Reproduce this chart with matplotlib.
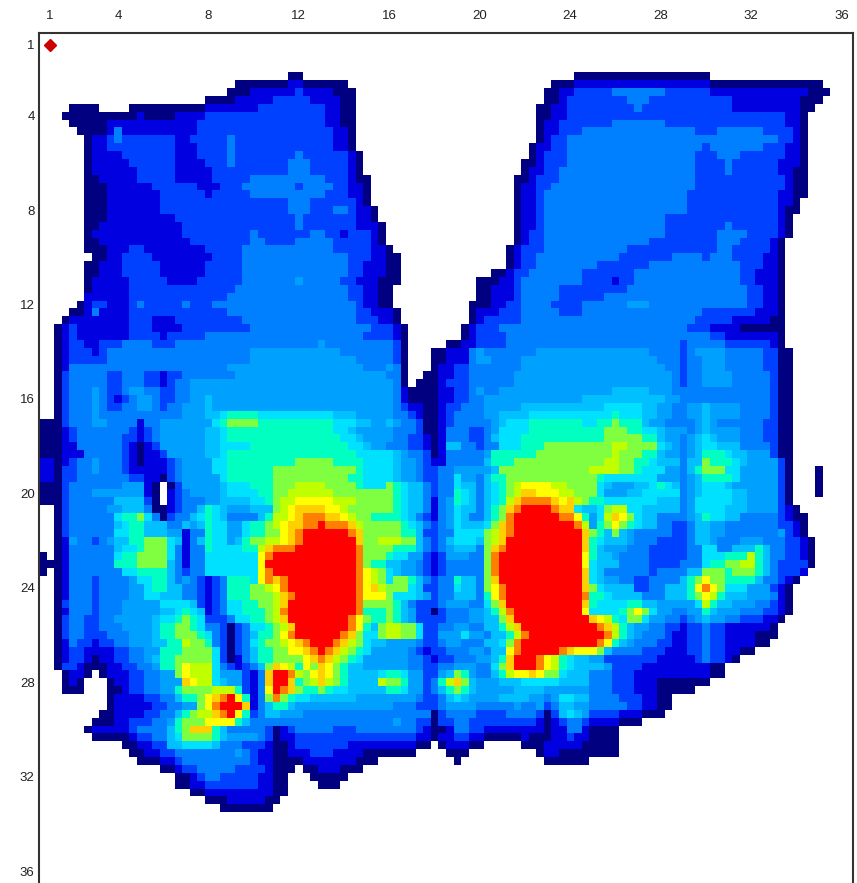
#!/usr/bin/env python3

import numpy as np
import matplotlib
matplotlib.use("Agg")
import matplotlib.pyplot as plt
from matplotlib.colors import ListedColormap

# Pressure level names, low to high, and what each one looks like
level_codes = "wndbmlscgyzjopr"
level_colors = ["#ffffff", "#000080", "#0000e0", "#0040ff", "#0080ff", "#00a0ff", "#00c0ff",
	"#00e0ff", "#00ffc0", "#80ff40", "#c0ff00", "#ffff00", "#ffd000", "#ff8000", "#ff0000"]

tick_labels = [1, 4, 8, 12, 16, 20, 24, 28, 32, 36]
marker_pos = (1, 1)

# Three samples per sensor. Each token is a level and the column where it stops.
rows_top = [
	"", "", "", "", "",
	"w33 n35 w71 n89",
	"w26 n33 d35 n41 w68 n71 d89 n104",
	"w25 n28 d34 b35 d39 n42 w67 n69 d71 b76 m83 b89 d102 n105",
	"w22 n26 d31 b36 d40 n42 w67 n69 d70 b78 m81 b92 d101 n104",
	"w4 n8 w12 n22 d29 b38 d40 n42 w66 n68 d70 b79 m80 b92 d101 n103",
	"w3 n13 d14 n18 d22 b38 d40 n42 w66 n68 d70 b99 d101 n102",
	"w4 n9 d21 b38 d40 n42 w66 n67 d69 b76 m83 b99 d101 n102",
	"w5 n9 d10 m11 d21 b39 d41 n42 w66 n67 d69 b72 m87 b90 m96 b100 d101 n102",
	"w6 n7 d9 b10 m11 b18 d20 b25 m26 b39 d41 n42 w66 n67 d68 b70 m98 b100 d101 n102",
	"w6 n7 d9 b18 d21 b25 m26 b39 d41 n42 w65 n66 d68 b70 m88 b89 m96 b99 d101 n102",
	"w6 n7 d11 b18 d21 b25 m26 b34 m35 b41 d42 n43 w65 n66 d67 b70 m87 b90 m93 b99 d101 n102",
	"w6 n7 d12 b18 d22 b25 m26 b33 m36 b41 d42 n43 w64 n66 d67 b70 m87 b91 m92 b98 d101 n102",
	"w6 n7 d13 b18 d23 b33 m36 b41 d42 n43 w64 n65 d67 b69 m87 b91 m92 b98 d100 n102",
	"w6 n8 d13 b18 d23 b28 m38 b41 d42 n44 w63 n65 d66 b69 m87 b99 d100 n102",
	"w6 n9 d15 b21 d24 b27 m34 b35 m39 b41 d43 n44 w63 n64 d66 b68 m87 b99 d100 n102",
	"w6 n9 d16 b22 d23 b28 m38 b41 d43 n44 w63 n64 d66 b67 m86 b98 d100 n102",
	"w6 n9 d16 b33 m36 b42 d43 n44 w63 n64 d66 b67 m86 b98 d100 n101",
	"w6 n9 d16 b33 m36 b39 m41 b42 d44 n45 w63 n64 d66 b67 m86 b98 d99 n101",
	"w6 n9 d18 b34 m35 b42 d44 n45 w63 n64 d66 b67 m83 b98 d99 n100",
	"w6 n8 d19 b34 m35 b42 d45 n46 w63 n64 d66 b67 m83 b91 m92 b98 d99 n100",
	"w6 n7 d19 b28 m29 b36 m38 b40 d41 b44 d45 n46 w63 n64 d65 b67 m83 b90 m94 b98 d99 n100",
	"w6 n8 d20 b28 m30 b34 m39 b44 d45 n46 w63 n64 d65 b67 m81 b90 m93 b97 d98 n99",
	"w6 n9 d12 b14 d22 b27 m39 b44 d46 n47 w62 n63 d64 b67 m78 b90 m92 b97 d98 n99",
	"w7 n9 d11 b15 d23 b27 m41 b44 d46 n48 w62 n63 d64 b66 m77 b84 m88 b89 m92 b96 d98 n99",
	"w6 n8 d11 b16 d22 b27 m41 b43 d46 n48 w62 n63 d64 b66 m74 b81 m93 b96 d98 n99",
	"w6 n8 d11 b16 d22 b27 m41 b43 d46 n48 w60 n62 d63 b65 m72 b79 m93 b95 d98 n99",
	"w6 n7 d12 b17 d21 b27 m34 l35 m40 b42 d45 n48 w58 n61 d63 b64 m72 b76 d77 b79 m93 b95 d98 n99",
	"w6 n7 d12 b26 m41 b43 d45 n47 w58 n60 d63 b64 m69 b78 m94 b96 d98 n99",
	"w6 d12 b25 m41 b43 d45 n47 w58 n60 d63 b64 m69 b75 m94 b96 d98 n99",
	"w5 n6 d7 b9 d12 b13 m14 b19 m20 b23 m42 b43 d45 n47 w57 n60 d62 b64 m68 b72 m78 l81 m94 b96 d98 n99",
	"w4 n6 d7 m8 d12 b25 m42 b44 d47 n48 w57 n58 d61 b64 m69 b72 m88 b95 d98 n99",
	"w3 n4 d12 b15 d18 b27 m42 b45 d47 n48 w57 n58 d59 b64 m87 b92 d97 n99",
	"w2 n3 d4 b5 d12 b15 d19 b28 m44 b47 d48 n49 w56 n57 d58 b61 m86 b89 d93 n99",
	"w2 n3 d4 b5 d12 b16 d17 b22 m43 b47 d48 n49 w56 n57 d58 b62 m89 b91 d98 n99",
	"w2 n3 d4 b6 d8 b11 m15 b18 m37 l38 m47 b48 n49 w54 n56 d58 b62 m85 b86 m91 b97 d98 n99",
	"w2 n3 d4 b7 d8 b9 m28 l40 m47 b48 n49 w52 n54 d57 m58 l59 m66 l81 m85 b86 m87 l91 m96 b98 n100",
	"w2 n3 d4 b9 m28 l42 m47 b48 n49 w52 n54 d57 m58 l60 m64 l82 m85 b86 m88 l91 m96 b98 n100",
	"w2 n3 d4 m25 l43 m46 l47 m48 n49 w52 n53 d55 b57 m64 l83 m85 b86 m88 l91 m96 b98 n100",
	"w2 n3 b4 m9 b11 m14 b16 d17 b19 m26 l46 m48 n49 w51 n53 d55 b57 m63 l84 m85 b86 m88 l92 m97 b98 n100",
	"w2 n3 b4 m9 b11 m14 b16 d17 b18 m20 l47 m48 n49 w50 n53 d54 b57 m63 l84 m85 b86 m88 l92 m97 b98 n100",
	"w2 n3 b4 m7 l8 m9 b11 m12 l14 m16 b18 m20 l47 m48 d49 n53 d55 b57 m58 l59 m61 l76 s81 l84 m97 b98 n100",
	"w2 n3 b4 m7 l8 m9 b10 d11 b12 m13 l15 m16 b18 m20 l22 s23 l47 m48 d49 n53 d55 b57 m59 l72 s83 l85 m97 b98 n100",
	"w2 n3 b4 m7 l8 m9 b11 m13 l15 m16 b17 m19 l22 s23 l47 m48 b49 d51 n53 d54 b56 m59 l64 s75 c80 s82 l84 m86 l88 s89 l93 m97 b98 n100",
	"w2 n3 b4 m7 l8 m19 l22 s24 c25 g29 c39 s42 l47 m49 b50 d51 n53 d54 b55 m59 l61 s65 c76 g77 c80 s82 l84 m86 l88 s89 l93 m97 b98 n100",
	"n3 b4 m7 l9 m13 d14 m16 l23 c24 g25 y29 g39 c42 s44 l46 s47 l48 m50 b51 n53 d54 b55 m60 l61 s62 c65 g72 c74 g76 y77 g80 s81 l83 m87 l88 s89 l90 m96 b98 n100",
	"n3 d4 b5 m12 b13 d14 b15 m16 l22 s24 c25 g39 c41 s42 l47 m50 b51 n53 d54 m57 b59 m60 l61 c65 g75 y78 g80 c82 s83 l86 m87 l88 s89 l93 m96 b98 n100",
	"n3 d4 b5 m11 b13 d14 b15 m16 l22 s24 c25 g40 c42 s43 l47 m49 b51 d52 n53 d54 m57 b59 m60 s61 c64 g75 y80 g82 s83 l85 m86 l87 s88 c89 s90 l93 m96 b98 n100",
	"n3 d5 m11 b12 d13 n14 d15 b16 l22 s24 c28 g41 c43 s44 l46 m49 b51 d52 n53 d54 s56 m58 b59 m61 c64 g67 y76 z78 y82 c83 s84 l85 m86 l87 s88 c90 s93 m97 b98 n100",
	"n3 d6 m11 b12 d13 n14 d16 b17 l22 s24 c25 g42 c47 s48 l49 m51 b52 n53 d54 m59 l60 g66 y76 z77 y80 g82 s83 l85 m86 l87 s88 g91 c92 s94 l97 b98 n100",
]

rows_middle = [
	"d2 n3 d4 b5 m7 l8 m11 b12 d13 n14 d17 b18 m19 l23 c25 g34 y39 g43 c47 s48 l50 m51 b52 d54 m59 s60 g63 y75 z77 y79 g81 c82 s85 m86 s88 y89 g92 c93 s94 l98 b99 n100",
	"d2 n3 b5 m7 l8 m11 b12 d17 b18 m19 l23 c25 g31 y42 g43 c47 s48 l50 m51 b53 m55 l60 s61 y73 z77 y79 g80 c83 l85 m86 s87 g88 y91 c93 l98 b99 n100 w103 n104",
	"d2 n3 b5 m12 b14 d16 n17 b18 m19 l24 c25 g31 y41 g43 c47 s48 l50 m51 b53 m55 c56 l58 m59 s60 g62 y74 g75 c82 l85 m86 l87 s88 g92 c93 l98 b99 n100 w103 n104",
	"n3 b4 m11 l14 d15 n16 w17 n18 b19 l24 s25 c28 g31 y34 z38 y42 g43 c46 y47 g48 c49 s51 m52 b53 m55 c56 s58 m59 s60 c61 g62 y63 z64 j68 z70 y74 c75 s76 l79 s81 c82 g83 c84 s85 m86 l87 s88 c91 s92 l98 b99 n100 w103 n104",
	"n3 b4 m7 l14 d15 n16 w17 d18 b19 m20 l24 s25 c29 g31 y33 z39 y47 g48 c49 s51 m52 b53 m55 g56 c57 s58 m59 s60 c61 g62 y63 z64 o66 j69 z71 y74 c75 l78 s80 c85 m86 l87 s88 c92 s94 l98 b99 n100 w103 n104",
	"n3 b4 m10 s14 b15 n16 w17 d18 b19 m22 l24 s28 c30 g31 y32 z34 j39 z42 y47 g48 c49 s51 m52 d53 m54 l55 g56 c57 s58 m59 s60 c61 g62 z63 o64 p68 o69 j70 o71 z72 y73 g75 c82 s85 m86 l87 c92 s94 l98 b99 n100",
	"w2 n3 b4 m9 l11 s14 m15 n17 d18 b19 m21 s22 g23 c24 s25 l28 s31 y32 z33 j34 o38 j40 z41 y47 g48 c49 s51 m52 d53 m54 l55 c56 s58 m59 s60 g61 y62 o63 p64 r68 p69 o71 c72 s74 c75 y76 z78 c80 s85 m86 l87 c91 s94 l98 b99 d100 n101",
	"w2 n3 b4 m10 c11 g13 y14 c15 m16 n17 b18 m20 s21 c22 g23 c24 s25 m29 s30 g31 z33 j34 o35 p38 o40 j41 z42 y44 g48 c49 s50 m51 b52 d53 m54 l55 c56 s57 m59 s60 g61 y62 p63 r69 p71 j72 g73 l74 c75 z76 o77 j78 y79 c80 s82 m86 l87 s88 g89 c91 s93 m98 b99 d100 n102",
	"w2 n3 b4 m10 s11 c12 g14 s17 m19 s20 l21 s22 g23 c25 l27 c28 g30 y31 z32 j33 o35 p37 r38 p41 o42 z43 y48 g49 c50 s51 m52 b53 m54 l55 c56 s59 c60 y61 o62 p63 r71 p72 z73 l74 g75 y76 j77 y78 g79 c80 s82 m84 b86 m87 s89 l91 m98 b100 d101 n102",
	"w2 n3 b4 m10 c12 g14 s17 l19 d20 m22 g23 c25 l27 c28 g30 y32 j33 o34 p35 r41 p42 o43 y48 g50 s51 b53 m55 c59 y60 z61 o62 p63 r72 o73 y74 g75 s76 y77 s78 l79 m84 b86 m87 s89 l91 m98 l99 b100 d101 n102",
	"w2 n3 d4 l5 m7 b8 m9 l10 s12 g14 y17 c18 s19 d20 m21 s22 g23 c25 l26 s27 g28 y30 z32 j33 o34 p35 r42 o43 y45 z48 y50 s51 m52 b53 m54 s55 c58 s59 y60 z61 o62 r72 o73 g74 c75 s78 l79 m82 b86 m87 s89 l90 m93 l96 m99 b101 d102 n103",
	"w2 n3 d4 m10 s11 c13 g14 y17 c18 m19 d20 m22 g23 c27 g29 z30 o31 p34 r42 p43 y47 g50 s51 m52 b53 m54 l55 s58 m59 y60 o61 p62 r72 o73 g74 s75 l78 m81 b86 m88 c90 m92 s95 g96 s97 m99 b101 d102 n103",
	"n1 w2 n3 d4 m10 c11 g13 y17 c18 m19 d20 m22 c29 j30 p31 r42 p43 y46 g47 c49 l51 b52 d53 b54 l57 m59 y60 p61 r72 j73 g74 s76 l77 m81 b86 m88 c91 g94 z95 g96 s97 m99 b101 d102 n103",
	"n3 d4 m10 g13 y17 s18 m19 d20 m22 c29 j30 r42 p43 y44 g46 s48 l50 m51 b52 d53 b54 m59 y60 p61 r72 j73 c74 s77 m81 b85 m88 c89 g91 y93 z95 g96 s97 m98 b102 n103",
	"n1 w2 n3 d4 m11 c13 g17 s18 m19 b20 m22 c29 j30 p31 r42 p43 j44 z45 y46 c47 s48 l50 m51 b52 d53 b54 m59 y60 p61 r72 o73 c74 s75 m81 b82 m86 s88 y91 g92 y95 g96 s97 m98 b101 d102",
	"w2 n3 d4 m7 b8 m12 l13 c15 g17 s18 m19 l20 m21 b22 d23 b24 m25 g28 c29 j30 p31 o32 p33 r42 p43 j44 z45 y46 c47 y49 g50 s51 m52 b53 m55 g56 s58 m59 y60 o61 r72 o73 c74 s75 l77 m79 b81 m85 s86 g87 y88 j89 y91 g95 s96 m98 b99 d100 n101",
	"w2 n3 d4 m7 b8 m12 l14 c15 g17 s19 m21 b22 d23 b24 m25 g28 y30 z31 j32 p33 r42 p43 j44 o45 z46 y49 c50 s51 b52 b53 m55 c56 s58 m59 y60 j61 p62 r72 o73 y74 c75 s79 b81 m83 s86 g87 j88 p89 j90 y91 c94 l97 b98 d99 n100",
	"w2 n3 d4 m7 b8 m12 l14 c16 s19 m21 b22 d23 b24 m25 g28 y31 z32 o33 p34 r42 p43 j46 y47 c50 s51 l52 b53 m55 s58 m59 g60 j61 p62 r72 p73 g75 c76 s80 m83 s86 g87 y88 j89 z90 g91 s94 l97 m98 d99 n100",
]

rows_bottom = [
	"w2 n3 b4 m7 b8 m11 l16 c20 s21 b22 d23 b24 m25 c27 g29 y31 z32 o33 r42 p43 y47 g48 s49 m50 b53 m54 l57 m59 c60 y61 o62 r72 o73 g74 c78 g80 s82 l87 c88 z89 g90 s92 l95 m97 b98 d99 n100",
	"w2 n3 d4 m7 b8 m11 l16 s18 c19 g20 c21 s22 d23 b24 m25 c27 g30 y31 z32 p33 r42 p43 g46 y47 g48 s49 l50 b52 n53 b54 m57 l59 s60 g61 z62 p63 r72 j73 c77 g78 y79 j80 y81 c82 l84 m86 l88 g89 s90 l93 m96 b98 d99 n100",
	"w2 n3 b4 m6 b8 m10 l15 s16 c18 g19 y20 g21 c22 b25 m26 c28 g30 y31 z32 o33 r41 p42 j43 y44 g46 y47 g48 s49 l50 b54 m57 l59 s61 y62 o63 r73 o74 j75 z76 g77 c78 y80 c81 l83 m85 b86 m87 l88 s89 l91 m93 b96 d98 n99",
	"w2 n3 b4 m6 b8 m11 l15 s16 g18 y20 g21 c22 m24 b25 n26 b27 m28 c30 g31 y32 z33 o34 r41 p42 j43 g44 s45 y46 z48 y50 c51 b53 m55 l57 m59 s61 g62 z63 o64 r74 p75 o76 z77 g78 s79 l81 m83 b85 d86 b88 m89 b91 d97 n98",
	"w2 n3 b4 m6 b9 m12 l15 s16 g18 y21 g22 c23 m24 b25 n26 b27 m28 s29 g31 y32 j33 p34 r40 p41 o42 y43 c45 y46 z48 y50 c51 b53 l56 c57 l59 m60 s62 g63 z64 p65 r75 p76 z77 g78 s79 l80 m83 b84 d86 b88 m89 b91 d95 n98",
	"w2 n3 d4 m5 b7 d8 b10 m12 l15 s17 g19 z20 y22 g23 m24 b25 n26 b27 m28 c29 g30 y32 z33 j34 o35 p36 r39 p40 o41 z42 y43 c44 s46 l50 m51 b53 m54 l56 m59 s61 c62 y63 p64 r74 p75 j76 g77 s78 l79 m82 b84 d86 b88 m89 b91 d95 n97",
	"w2 n3 d4 b6 d10 b12 m14 l16 g19 y23 c24 b25 n26 b27 m28 s29 g31 y33 j35 o36 p37 r38 p39 o40 z41 y42 g43 c44 l49 m50 b51 d52 b54 m57 l59 m60 s62 j63 p64 r69 p70 o71 j74 y75 s76 m80 b83 d86 b88 m89 b91 d93 n95",
	"w2 n3 d4 b6 d7 n8 d10 b12 m14 l15 s16 g18 y23 c24 b25 n26 d27 m28 s29 g31 y35 j36 o37 p38 o39 z40 y41 g42 c43 l49 m51 b52 d53 b55 m58 l60 s61 g62 o63 r66 p67 j68 z69 g70 c71 s73 l75 b82 d87 b88 m89 b91 d92 n93",
	"w2 n3 b5 d6 n9 d11 b13 m15 l16 g18 y19 j20 z23 c24 m25 b26 d27 b28 m29 s30 y31 o32 j33 z34 g35 j36 y37 o38 j39 y40 g41 s43 l49 m51 b53 m55 l58 m60 c61 y62 o63 r66 p67 j68 z69 g70 c71 s75 l76 b80 d89 n91",
	"w3 n4 d6 n7 w8 n9 d12 b14 m16 l18 y19 j20 z23 c24 l27 b28 d29 m30 o31 r33 p34 z35 y36 j37 o38 j39 y40 g41 s45 c46 g48 c49 l51 b53 l54 s55 y56 g57 l58 m60 s61 g62 z63 j65 o66 j67 y69 c70 s73 m76 b79 d89 n91",
	"w3 n4 d5 n6 w9 n10 d12 b14 m16 l19 o20 j21 z23 c24 s25 l27 b28 d29 m30 o31 r33 o34 g35 y36 z37 o38 z39 y40 g41 s45 z46 y48 g49 l51 b52 m53 g54 z55 o56 y57 s58 l61 s64 c69 s73 m76 b79 d82 n89",
	"w3 n6 w9 n11 d12 b14 m16 l18 g19 y23 z26 g27 l27 b28 d29 m30 j31 r32 p33 o34 y35 g37 y38 g39 c41 s46 g48 c49 l51 b52 m53 s54 g55 y56 g57 s58 l63 s67 l73 m76 b79 d82 n87",
	"w9 n10 d14 b16 m18 s19 g21 y22 j23 o24 p25 r26 j27 g28 d29 m30 y31 p32 y33 g34 c36 s42 l50 m51 b53 m54 s55 c56 s57 l61 s65 l67 m68 l69 c71 s73 m77 b80 d82 n84",
	"w9 n10 d15 b17 m19 l21 y22 j23 p24 r27 o28 d29 m30 s31 g33 s34 l47 m50 b53 m54 l58 m63 l64 m66 l67 b68 m69 s71 l73 m78 b80 d82 n84",
	"w8 n10 d14 b16 m18 s19 g20 y21 z23 o24 p25 r26 j27 g28 b29 m30 s32 l35 m52 n53 b54 m58 b62 m66 b67 n68 b69 s70 c71 s72 l73 b77 d80 n83",
	"w7 n10 d12 b15 m17 l18 g19 y22 j26 g27 s28 m47 l48 m50 b52 n53 b55 m57 b66 d67 n68 d69 b70 m72 b73 d77 n80",
	"w6 n7 d12 b13 m17 s18 g19 y20 o23 g24 s25 m30 b31 n32 d33 b34 m39 b42 m50 b51 d52 n54 d55 m57 b59 d67 n68 d70 m72 d73 n77",
	"w7 n12 d13 b15 m17 s18 c19 y23 g24 s25 l29 m30 b31 n32 d34 b50 d52 n53 d55 b57 d59 n64 d65 n68 d70 b71 d73 n77",
	"w11 n13 d15 b17 s19 c23 s24 m27 b30 d31 n33 d34 b41 d50 n52 w53 n54 d57 n59 w64 n67 d72 n77",
	"w12 n14 d16 b18 m26 l27 m28 b29 d31 n33 d36 b39 d43 n50 w54 n57 w66 n67 d69 n77",
	"w13 n16 d18 b19 m28 b29 d31 n35 d42 n45 w55 n56 w67 n73",
	"w16 n18 d19 b21 m26 b30 d31 n34 w35 n37 d40 n43",
	"w18 n20 d21 b22 m24 b29 d31 n33 w36 n41",
	"w18 n20 d22 b29 d31 n33 w37 n40",
	"w20 n22 d31 n33",
	"w22 n25 d30 n32",
	"w24 n31",
]


# Unpacks one row of tokens into a full row of level numbers
def unpack_row(row, width=108):
	values = np.zeros(width)
	start = 0
	for token in row.split():
		end = int(token[1:])
		values[start:end] = level_codes.index(token[0])
		start = end
	return values


all_rows = rows_top + rows_middle + rows_bottom
all_rows += [""] * (108 - len(all_rows))
grid = np.array([unpack_row(row) for row in all_rows])

fig = plt.figure(figsize=(8.57, 8.83), dpi=100)
ax = fig.add_axes([38.8 / 857, 0, (852.7 - 38.8) / 857, 1 - 33 / 883])
ax.imshow(grid, cmap=ListedColormap(level_colors), vmin=-0.5, vmax=14.5, aspect="auto",
	extent=(0.5, 36.5, 36.5, 0.5), interpolation="nearest")
ax.plot(marker_pos[0], marker_pos[1], marker="D", color="#cc0000", markersize=6)

ax.set_xticks(tick_labels)
ax.set_yticks(tick_labels)
ax.xaxis.tick_top()
ax.tick_params(axis="x", length=0, pad=8, labelsize=9.5, labelcolor="#222222")
ax.tick_params(axis="y", length=0, pad=3, labelsize=9.5, labelcolor="#222222")
for label in ax.get_xticklabels() + ax.get_yticklabels():
	label.set_family("Liberation Sans")
for side in ["top", "left", "right"]:
	ax.spines[side].set_linewidth(1.5)
	ax.spines[side].set_color("#333333")
ax.spines["bottom"].set_visible(False)

fig.savefig("out.png", dpi=100)
